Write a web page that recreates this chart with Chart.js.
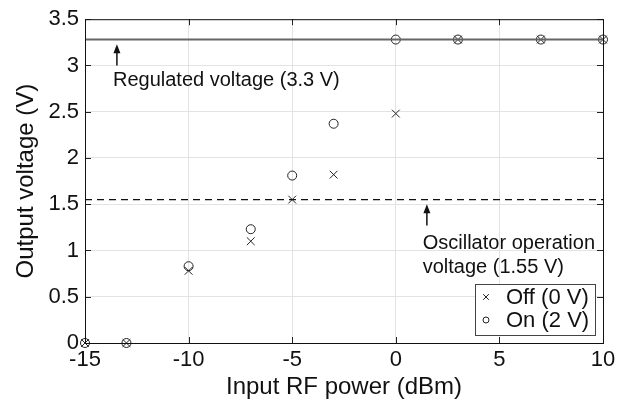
<!DOCTYPE html>
<html>
<head>
<meta charset="utf-8">
<script src="https://cdn.jsdelivr.net/npm/chart.js@4"></script>
<style>
  html, body { margin: 0; padding: 0; background: #fff; }
  #wrap { width: 629px; height: 402px; }
</style>
</head>
<body>
<div id="wrap"><canvas id="chart" width="629" height="402"></canvas></div>
<script>
// input RF power (dBm)
const powers = [-15, -13, -10, -7, -5, -3, 0, 3, 7, 10];
const offValues = [0, 0, 0.78, 1.1, 1.55, 1.82, 2.48, 3.28, 3.28, 3.28];
const onValues = [0, 0, 0.83, 1.23, 1.81, 2.37, 3.28, 3.28, 3.28, 3.28];
const regulatedLevel = 3.28;
const oscillatorLevel = 1.55;
const xTicks = [-15, -10, -5, 0, 5, 10];
const yTicks = [0, 0.5, 1, 1.5, 2, 2.5, 3, 3.5];

const FONT = "'Liberation Sans', Arial, Helvetica, sans-serif";

const pairs = (xs, ys) => xs.map((x, i) => ({ x, y: ys[i] }));
const span = (y) => [{ x: -15, y }, { x: 10, y }];

// labels + arrows in data coordinates
const notes = [
  { x: -13.65, ax: -13.46, y: 2.84, lines: ["Regulated voltage (3.3 V)"], arrowFrom: 3.0, arrowTo: 3.23 },
  { x: 1.3, ax: 1.5, y: 1.08, lines: ["Oscillator operation", "voltage (1.55 V)"], arrowFrom: 1.27, arrowTo: 1.5 },
];

const innerTicks = {
  id: "innerTicks",
  afterDatasetsDraw(chart) {
    const { ctx, chartArea: a, scales } = chart;
    ctx.save();
    ctx.strokeStyle = "#222";
    ctx.lineWidth = 1;
    ctx.beginPath();
    xTicks.forEach((v) => {
      const px = Math.round(scales.x.getPixelForValue(v)) + 0.5;
      ctx.moveTo(px, a.bottom); ctx.lineTo(px, a.bottom - 6);
      ctx.moveTo(px, a.top); ctx.lineTo(px, a.top + 6);
    });
    yTicks.forEach((v) => {
      const py = Math.round(scales.y.getPixelForValue(v)) + 0.5;
      ctx.moveTo(a.left, py); ctx.lineTo(a.left + 6, py);
      ctx.moveTo(a.right, py); ctx.lineTo(a.right - 6, py);
    });
    ctx.stroke();
    ctx.strokeStyle = "#111";
    ctx.strokeRect(a.left + 0.5, a.top + 0.5, a.right - a.left, a.bottom - a.top);
    ctx.restore();
  },
};

const notesPlugin = {
  id: "notes",
  afterDatasetsDraw(chart) {
    const { ctx, scales } = chart;
    ctx.save();
    ctx.fillStyle = "#111";
    ctx.strokeStyle = "#111";
    ctx.font = "20px " + FONT;
    ctx.textBaseline = "middle";
    notes.forEach((n) => {
      const ax = scales.x.getPixelForValue(n.ax);
      const y0 = scales.y.getPixelForValue(n.arrowFrom);
      const y1 = scales.y.getPixelForValue(n.arrowTo);
      ctx.lineWidth = 1.5;
      ctx.beginPath();
      ctx.moveTo(ax, y0); ctx.lineTo(ax, y1 + 6);
      ctx.stroke();
      ctx.beginPath();
      ctx.moveTo(ax, y1); ctx.lineTo(ax - 3.5, y1 + 9); ctx.lineTo(ax + 3.5, y1 + 9);
      ctx.closePath();
      ctx.fill();
      const tx = scales.x.getPixelForValue(n.x);
      let ty = scales.y.getPixelForValue(n.y);
      n.lines.forEach((line) => {
        ctx.fillText(line, tx, ty);
        ty += 24;
      });
    });
    ctx.restore();
  },
};

const legendBox = {
  id: "legendBox",
  afterDatasetsDraw(chart) {
    const { ctx, chartArea: a } = chart;
    const w = 120, h = 51;
    const x = a.right - 8 - w, y = a.bottom - 8 - h;
    ctx.save();
    ctx.fillStyle = "#fff";
    ctx.fillRect(x, y, w, h);
    ctx.strokeStyle = "#444";
    ctx.lineWidth = 1;
    ctx.strokeRect(x + 0.5, y + 0.5, w, h);
    const items = chart.data.datasets.filter((d) => d.legend);
    ctx.font = "22px " + FONT;
    ctx.textBaseline = "middle";
    items.forEach((d, i) => {
      const cy = y + 13 + i * 23;
      ctx.strokeStyle = "#222";
      ctx.fillStyle = "rgba(0,0,0,0)";
      ctx.lineWidth = 1;
      const r = d.pointStyle === "crossRot" ? 4 : 3;
      Chart.helpers.drawPoint(ctx, { pointStyle: d.pointStyle, radius: r, borderWidth: 1, rotation: 0 }, x + 11, cy);
      ctx.fillStyle = "#111";
      ctx.fillText(d.label, x + 31, cy + 1);
    });
    ctx.restore();
  },
};

new Chart(document.getElementById("chart"), {
  type: "scatter",
  data: {
    datasets: [
      {
        label: "Regulated", data: span(regulatedLevel), type: "line", showLine: true,
        borderColor: "#666", borderWidth: 2, pointRadius: 0, fill: false,
      },
      {
        label: "Oscillator", data: span(oscillatorLevel), type: "line", showLine: true,
        borderColor: "#111", borderWidth: 1.3, borderDash: [7, 5], pointRadius: 0, fill: false,
      },
      {
        label: "Off (0 V)", legend: true, data: pairs(powers, offValues), pointStyle: "crossRot",
        pointRadius: 5.5, borderColor: "#222", backgroundColor: "transparent", borderWidth: 1, clip: false,
      },
      {
        label: "On (2 V)", legend: true, data: pairs(powers, onValues), pointStyle: "circle",
        pointRadius: 4.5, borderColor: "#222", backgroundColor: "transparent", borderWidth: 1, clip: false,
      },
    ],
  },
  options: {
    responsive: false,
    animation: false,
    events: [],
    layout: { padding: { top: 18, right: 26, left: 12, bottom: 0 } },
    plugins: { legend: { display: false }, tooltip: { enabled: false } },
    scales: {
      x: {
        type: "linear", min: -15, max: 10,
        afterBuildTicks: (s) => { s.ticks = xTicks.map((value) => ({ value })); },
        afterFit: (s) => { s.height = 59; },
        grid: { color: "#e3e3e3", tickLength: 0, drawTicks: false },
        border: { display: false },
        ticks: { color: "#111", font: { family: FONT, size: 22 }, padding: 4, maxRotation: 0 },
        title: { display: true, text: "Input RF power (dBm)", color: "#111", font: { family: FONT, size: 24 }, padding: { top: 0, bottom: 0 } },
      },
      y: {
        type: "linear", min: 0, max: 3.5,
        afterBuildTicks: (s) => { s.ticks = yTicks.map((value) => ({ value })); },
        afterFit: (s) => { s.width = 73; },
        grid: { color: "#e3e3e3", tickLength: 0, drawTicks: false },
        border: { display: false },
        ticks: { color: "#111", font: { family: FONT, size: 22 }, padding: 6, callback: (v) => String(v) },
        title: { display: true, text: "Output voltage (V)", color: "#111", font: { family: FONT, size: 24 }, padding: { top: 0, bottom: 0 } },
      },
    },
  },
  plugins: [innerTicks, notesPlugin, legendBox],
});
</script>
</body>
</html>
